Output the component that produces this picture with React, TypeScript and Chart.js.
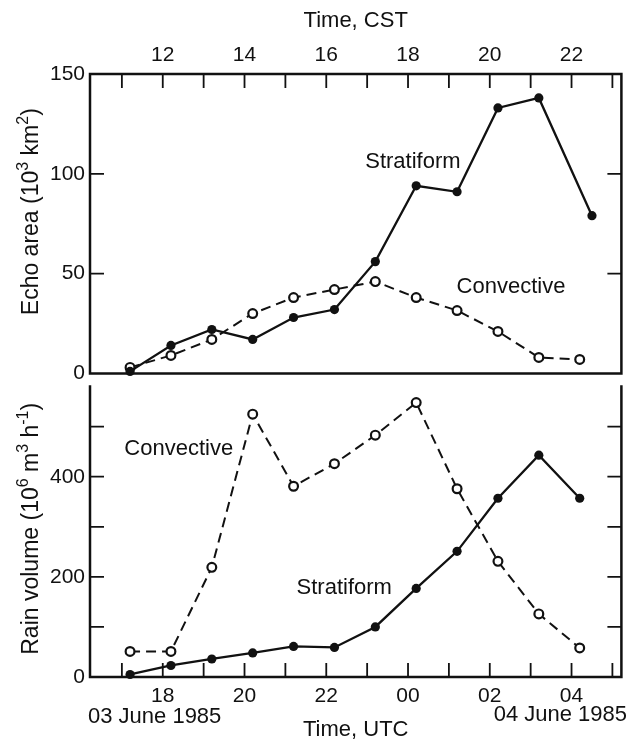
import React, { useEffect, useRef } from "react";
import { Chart, registerables } from "chart.js";

Chart.register(...registerables);

// Observation times in UTC hours (values past 24 belong to 04 June 1985)
const TIMES_UTC = [17.2, 18.2, 19.2, 20.2, 21.2, 22.2, 23.2, 24.2, 25.2, 26.2, 27.2, 28.2];
const TIMES_UTC_AREA_STRAT = [17.2, 18.2, 19.2, 20.2, 21.2, 22.2, 23.2, 24.2, 25.2, 26.2, 27.2, 28.5];

// Echo area (10^3 km^2)
const AREA_STRATIFORM = [1, 14, 22, 17, 28, 32, 56, 94, 91, 133, 138, 79];
const AREA_CONVECTIVE = [3, 9, 17, 30, 38, 42, 46, 38, 31.5, 21, 8, 7];

// Rain volume (10^6 m^3 h^-1)
const RAIN_STRATIFORM = [5, 23, 36, 48, 61, 59, 100, 177, 251, 357, 443, 357];
const RAIN_CONVECTIVE = [51, 51, 219, 525, 381, 426, 483, 548, 376, 231, 126, 58];

// Axes
const HOUR_TICKS = [17, 18, 19, 20, 21, 22, 23, 24, 25, 26, 27, 28, 29];
const AREA_TICKS = [0, 50, 100, 150];
const RAIN_TICKS = [0, 100, 200, 300, 400, 500];
const RAIN_LABELED = [0, 200, 400];
const X_MIN = 16.22;
const X_MAX = 29.22;
const AREA_MAX = 150;
const RAIN_MAX = 580;
const CST_OFFSET = -6;

// Labels in the plots
const AREA_NOTES = [
  { text: "Stratiform", x: 24.12, y: 106 },
  { text: "Convective", x: 26.52, y: 43.5 },
];
const RAIN_NOTES = [
  { text: "Convective", x: 18.39, y: 455 },
  { text: "Stratiform", x: 22.44, y: 177 },
];

const INK = "#111111";
const FAMILY = "'Liberation Sans', Arial, Helvetica, sans-serif";
const FS = 22;
const FS_TICK = 21;
const FS_YTITLE = 23;
const TICK = 14;

type Seg = { t: string; sup?: boolean };
const AREA_TITLE: Seg[] = [
  { t: "Echo area (10" },
  { t: "3", sup: true },
  { t: " km" },
  { t: "2", sup: true },
  { t: ")" },
];
const RAIN_TITLE: Seg[] = [
  { t: "Rain volume (10" },
  { t: "6", sup: true },
  { t: " m" },
  { t: "3", sup: true },
  { t: " h" },
  { t: "-1", sup: true },
  { t: ")" },
];

function framePlugin(cfg: { topLine: boolean; bottomLine: boolean; xSide: "top" | "bottom"; yTicks: number[] }) {
  return {
    id: "frame",
    afterDatasetsDraw(chart: any) {
      const { ctx, chartArea: a, scales } = chart;
      const xs = scales.x;
      const ys = scales.y;
      ctx.save();
      ctx.strokeStyle = INK;
      ctx.lineWidth = 2.5;
      ctx.lineCap = "square";
      ctx.beginPath();
      ctx.moveTo(a.left, a.top);
      ctx.lineTo(a.left, a.bottom);
      ctx.moveTo(a.right, a.top);
      ctx.lineTo(a.right, a.bottom);
      if (cfg.topLine) {
        ctx.moveTo(a.left, a.top);
        ctx.lineTo(a.right, a.top);
      }
      if (cfg.bottomLine) {
        ctx.moveTo(a.left, a.bottom);
        ctx.lineTo(a.right, a.bottom);
      }
      ctx.stroke();
      ctx.lineCap = "butt";
      ctx.lineWidth = 1.8;
      ctx.beginPath();
      for (const t of xs.ticks) {
        const px = xs.getPixelForValue(t.value);
        if (cfg.xSide === "top") {
          ctx.moveTo(px, a.top);
          ctx.lineTo(px, a.top + TICK);
        } else {
          ctx.moveTo(px, a.bottom);
          ctx.lineTo(px, a.bottom - TICK);
        }
      }
      for (const v of cfg.yTicks) {
        if (v <= ys.min || v >= ys.max) continue;
        const py = ys.getPixelForValue(v);
        ctx.moveTo(a.left, py);
        ctx.lineTo(a.left + TICK, py);
        ctx.moveTo(a.right, py);
        ctx.lineTo(a.right - TICK, py);
      }
      ctx.stroke();
      ctx.restore();
    },
  };
}

function notesPlugin(notes: { text: string; x: number; y: number }[]) {
  return {
    id: "notes",
    afterDatasetsDraw(chart: any) {
      const { ctx, scales } = chart;
      ctx.save();
      ctx.fillStyle = INK;
      ctx.font = `${FS}px ${FAMILY}`;
      ctx.textAlign = "center";
      ctx.textBaseline = "middle";
      for (const n of notes) {
        ctx.fillText(n.text, scales.x.getPixelForValue(n.x), scales.y.getPixelForValue(n.y));
      }
      ctx.restore();
    },
  };
}

function yTitlePlugin(segs: Seg[], cx: number, shift: number) {
  return {
    id: "ytitle",
    afterDraw(chart: any) {
      const { ctx, chartArea: a } = chart;
      const main = `${FS_YTITLE}px ${FAMILY}`;
      const small = `${Math.round(FS_YTITLE * 0.68)}px ${FAMILY}`;
      ctx.save();
      let total = 0;
      const widths = segs.map((s) => {
        ctx.font = s.sup ? small : main;
        const w = ctx.measureText(s.t).width;
        total += w;
        return w;
      });
      ctx.translate(cx, (a.top + a.bottom) / 2 + shift);
      ctx.rotate(-Math.PI / 2);
      ctx.fillStyle = INK;
      ctx.textBaseline = "middle";
      ctx.textAlign = "left";
      let x = -total / 2;
      segs.forEach((s, i) => {
        ctx.font = s.sup ? small : main;
        ctx.fillText(s.t, x, s.sup ? -8 : 0);
        x += widths[i];
      });
      ctx.restore();
    },
  };
}

function datesPlugin() {
  return {
    id: "dates",
    afterDraw(chart: any) {
      const { ctx, chartArea: a, width } = chart;
      ctx.save();
      ctx.fillStyle = INK;
      ctx.font = `${FS}px ${FAMILY}`;
      ctx.textBaseline = "middle";
      ctx.textAlign = "left";
      ctx.fillText("03 June 1985", a.left - 2, a.bottom + 40);
      ctx.textAlign = "right";
      ctx.fillText("04 June 1985", width - 1, a.bottom + 38);
      ctx.restore();
    },
  };
}

const tickFont = { family: FAMILY, size: FS_TICK };
const titleFont = { family: FAMILY, size: FS };

function series(xs: number[], ys: number[]) {
  return xs.map((x, i) => ({ x, y: ys[i] }));
}

function solidSet(label: string, data: any[]) {
  return {
    label,
    data,
    borderColor: INK,
    backgroundColor: INK,
    borderWidth: 2.3,
    pointRadius: 4.6,
    pointBackgroundColor: INK,
    pointBorderColor: INK,
    pointBorderWidth: 0,
    tension: 0,
    clip: false as any,
  };
}

function dashedSet(label: string, data: any[]) {
  return {
    label,
    data,
    borderColor: INK,
    backgroundColor: "#ffffff",
    borderWidth: 2,
    borderDash: [10, 6],
    pointRadius: 4.4,
    pointBackgroundColor: "#ffffff",
    pointBorderColor: INK,
    pointBorderWidth: 2.2,
    tension: 0,
    clip: false as any,
  };
}

function hourTicks(scale: any) {
  scale.ticks = HOUR_TICKS.map((v) => ({ value: v }));
}

function fixX(h: number) {
  return (s: any) => {
    s.height = h;
    s.paddingLeft = 0;
    s.paddingRight = 0;
  };
}

function fixY(s: any) {
  s.width = 90;
  s.paddingTop = 0;
  s.paddingBottom = 0;
}

export default function App() {
  const topRef = useRef<HTMLCanvasElement>(null);
  const botRef = useRef<HTMLCanvasElement>(null);

  useEffect(() => {
    const top = new Chart(topRef.current as HTMLCanvasElement, {
      type: "line",
      data: {
        datasets: [
          solidSet("Stratiform", series(TIMES_UTC_AREA_STRAT, AREA_STRATIFORM)),
          dashedSet("Convective", series(TIMES_UTC, AREA_CONVECTIVE)),
        ] as any,
      },
      options: {
        responsive: false,
        animation: false,
        devicePixelRatio: 1,
        layout: { padding: { left: 0, right: 5, top: 0, bottom: 5 } },
        plugins: { legend: { display: false }, tooltip: { enabled: false } },
        scales: {
          x: {
            type: "linear",
            position: "top",
            min: X_MIN,
            max: X_MAX,
            afterBuildTicks: hourTicks,
            afterFit: fixX(74),
            grid: { display: false, drawTicks: false },
            border: { display: false },
            ticks: {
              font: tickFont,
              color: INK,
              padding: 6,
              maxRotation: 0,
              autoSkip: false,
              callback: (v: any) => {
                const cst = Math.round(Number(v)) + CST_OFFSET;
                return cst % 2 === 0 ? String(cst) : "";
              },
            },
            title: { display: true, text: "Time, CST", font: titleFont, color: INK, padding: { top: 8, bottom: 0 } },
          },
          y: {
            type: "linear",
            min: 0,
            max: AREA_MAX,
            afterBuildTicks: (s: any) => {
              s.ticks = AREA_TICKS.map((v) => ({ value: v }));
            },
            afterFit: fixY,
            grid: { display: false, drawTicks: false },
            border: { display: false },
            ticks: { font: tickFont, color: INK, padding: 5 },
          },
        },
      } as any,
      plugins: [
        framePlugin({ topLine: true, bottomLine: true, xSide: "top", yTicks: AREA_TICKS }),
        notesPlugin(AREA_NOTES),
        yTitlePlugin(AREA_TITLE, 32, -12),
      ],
    });

    const bot = new Chart(botRef.current as HTMLCanvasElement, {
      type: "line",
      data: {
        datasets: [
          solidSet("Stratiform", series(TIMES_UTC, RAIN_STRATIFORM)),
          dashedSet("Convective", series(TIMES_UTC, RAIN_CONVECTIVE)),
        ] as any,
      },
      options: {
        responsive: false,
        animation: false,
        devicePixelRatio: 1,
        layout: { padding: { left: 0, right: 5, top: 5, bottom: 0 } },
        plugins: { legend: { display: false }, tooltip: { enabled: false } },
        scales: {
          x: {
            type: "linear",
            position: "bottom",
            min: X_MIN,
            max: X_MAX,
            afterBuildTicks: hourTicks,
            afterFit: fixX(66),
            grid: { display: false, drawTicks: false },
            border: { display: false },
            ticks: {
              font: tickFont,
              color: INK,
              padding: 7,
              maxRotation: 0,
              autoSkip: false,
              callback: (v: any) => {
                const h = Math.round(Number(v)) % 24;
                return h % 2 === 0 ? String(h).padStart(2, "0") : "";
              },
            },
            title: { display: true, text: "Time, UTC", font: titleFont, color: INK, padding: { top: 0, bottom: 0 } },
          },
          y: {
            type: "linear",
            min: 0,
            max: RAIN_MAX,
            afterBuildTicks: (s: any) => {
              s.ticks = RAIN_TICKS.map((v) => ({ value: v }));
            },
            afterFit: fixY,
            grid: { display: false, drawTicks: false },
            border: { display: false },
            ticks: {
              font: tickFont,
              color: INK,
              padding: 5,
              callback: (v: any) => (RAIN_LABELED.includes(Number(v)) ? String(v) : ""),
            },
          },
        },
      } as any,
      plugins: [
        framePlugin({ topLine: false, bottomLine: true, xSide: "bottom", yTicks: RAIN_TICKS }),
        notesPlugin(RAIN_NOTES),
        yTitlePlugin(RAIN_TITLE, 32, -3),
        datesPlugin(),
      ],
    });

    return () => {
      top.destroy();
      bot.destroy();
    };
  }, []);

  return (
    <div style={{ position: "absolute", left: 0, top: 0, width: 628, height: 743, background: "#fff" }}>
      <canvas ref={topRef} width={628} height={380} style={{ position: "absolute", left: 0, top: 0 }} />
      <canvas ref={botRef} width={628} height={363} style={{ position: "absolute", left: 0, top: 380 }} />
    </div>
  );
}
